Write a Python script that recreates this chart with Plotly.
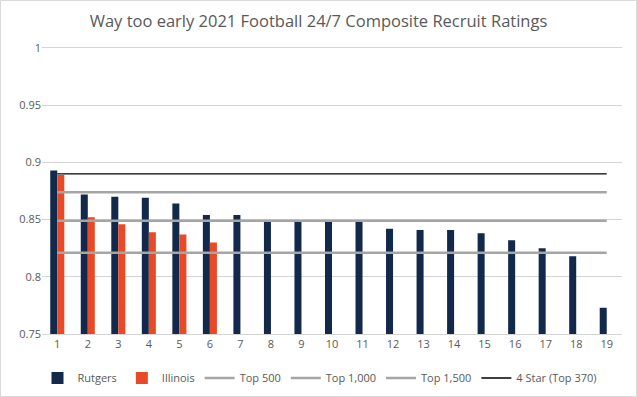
import plotly.graph_objects as go

categories = [str(i) for i in range(1, 20)]
rutgers = [0.893, 0.872, 0.870, 0.869, 0.864, 0.854, 0.854, 0.848, 0.848, 0.848,
           0.848, 0.842, 0.841, 0.841, 0.838, 0.832, 0.825, 0.818, 0.773]
illinois = [0.889, 0.852, 0.846, 0.839, 0.837, 0.830]
top500 = 0.874
top1000 = 0.849
top1500 = 0.821
four_star = 0.890

W, H = 637, 397
ml, mr, mt, mb = 42, 15, 48, 63
pw, ph = W - ml - mr, H - mt - mb

font = "Open Sans"
grey_text = "#595959"
grid = "#d4d4d4"

fig = go.Figure()
fig.add_trace(go.Bar(x=categories, y=rutgers, name="Rutgers", marker_color="#13294b"))
fig.add_trace(go.Bar(x=categories[:len(illinois)], y=illinois, name="Illinois", marker_color="#e84a27"))
for name, val, color, width in [("Top 500", top500, "#a5a5a5", 2.5),
                                ("Top 1,000", top1000, "#a5a5a5", 2.5),
                                ("Top 1,500", top1500, "#a5a5a5", 2.5),
                                ("4 Star (Top 370)", four_star, "#000000", 1.3)]:
    fig.add_trace(go.Scatter(x=categories, y=[val] * len(categories), mode="lines",
                             name=name, line=dict(color=color, width=width)))

fig.update_layout(
    template="none",
    width=W, height=H,
    margin=dict(l=ml, r=mr, t=mt, b=mb, autoexpand=False),
    paper_bgcolor="white", plot_bgcolor="white",
    barmode="group", bargap=0.54, bargroupgap=0,
    title=dict(text="Way too early 2021 Football 24/7 Composite Recruit Ratings",
               x=0.5, xanchor="center", y=1 - 21 / H, yanchor="middle",
               font=dict(family=font, size=16.5, color=grey_text)),
    font=dict(family=font, size=11, color=grey_text),
    legend=dict(orientation="h", x=(320 - ml) / pw, xanchor="center", y=-(378 - 334) / ph,
                yanchor="middle",
                font=dict(family=font, size=11, color=grey_text), traceorder="normal",
                itemwidth=30),
    showlegend=True,
    shapes=[dict(type="rect", xref="paper", yref="paper",
                 x0=(0.5 - ml) / pw, x1=(W - 0.5 - ml) / pw,
                 y0=-(H - 0.5 - (H - mb)) / ph, y1=(H - mb - 0.5) / ph,
                 line=dict(color="#d9d9d9", width=1), layer="above")],
)
fig.update_yaxes(range=[0.75, 1.0], tick0=0.75, dtick=0.05, tickmode="linear",
                 showgrid=True, gridcolor=grid,
                 gridwidth=1, zeroline=False, showline=False, ticks="", automargin=False,
                 tickfont=dict(size=11, color=grey_text))
fig.update_xaxes(type="category", showgrid=False, showline=True, mirror=True, linecolor=grid,
                 ticks="", automargin=False, tickfont=dict(size=11, color=grey_text))

fig.write_html("out.html", config={"displayModeBar": False},
               post_script="document.body.style.margin='0';document.body.style.overflow='hidden';")
